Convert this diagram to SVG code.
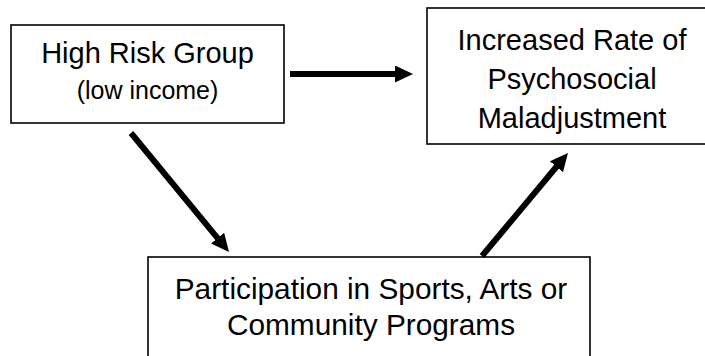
<svg xmlns="http://www.w3.org/2000/svg" width="705" height="356" viewBox="0 0 705 356">
<style>
.box{fill:#fff;stroke:#000;stroke-width:1.6}
.t{font-family:"Liberation Sans",Arial,sans-serif;fill:#000;text-anchor:middle}
.big{font-size:29px}
.big2{font-size:29.8px}
.small{font-size:25px}
.conn{stroke:#000;stroke-width:6;fill:none;marker-end:url(#ah)}
</style>
<defs>
<marker id="ah" markerUnits="userSpaceOnUse" markerWidth="19" markerHeight="18" refX="1" refY="8.5" orient="auto">
<path d="M0,0 L18,8.5 L0,17 z" fill="#000"/>
</marker>
</defs>
<g id="n-highrisk">
<rect class="box" x="11" y="25" width="273" height="98"/>
<text class="t big" x="147.5" y="63">High Risk Group</text>
<text class="t small" x="147.5" y="99">(low income)</text>
</g>
<g id="n-maladjustment">
<rect class="box" x="427" y="8" width="290" height="136"/>
<text class="t big" x="572" y="50">Increased Rate of</text>
<text class="t big" x="572" y="89">Psychosocial</text>
<text class="t big" x="572" y="128">Maladjustment</text>
</g>
<g id="n-participation">
<rect class="box" x="148" y="257" width="442" height="110"/>
<text class="t big2" x="371" y="299">Participation in Sports, Arts or</text>
<text class="t big2" x="371" y="335">Community Programs</text>
</g>
<g id="connectors">
<line class="conn" x1="290" y1="74" x2="396" y2="74"/>
<line class="conn" x1="131" y1="133" x2="218.2" y2="238.9"/>
<line class="conn" x1="482" y1="256" x2="557.1" y2="166"/>
</g>
</svg>
